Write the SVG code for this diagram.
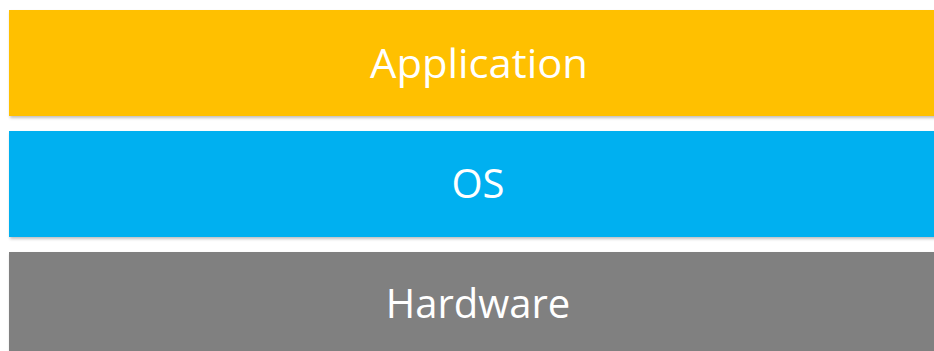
<svg xmlns="http://www.w3.org/2000/svg" width="934" height="351" viewBox="0 0 934 351">
  <style>
    .layer-label { font-family: "Open Sans", "Liberation Sans", sans-serif; font-size: 40px; fill: #ffffff; text-anchor: middle; }
  </style>
  <defs>
    <filter id="soft-shadow" x="-5%" y="-10%" width="110%" height="130%">
      <feGaussianBlur in="SourceAlpha" stdDeviation="1.5"/>
      <feOffset dx="1" dy="2" result="b"/>
      <feComponentTransfer><feFuncA type="linear" slope="0.25"/></feComponentTransfer>
      <feMerge><feMergeNode/><feMergeNode in="SourceGraphic"/></feMerge>
    </filter>
  </defs>
  <rect width="934" height="351" fill="#ffffff"/>
  <g id="application">
    <rect x="9" y="10" width="940" height="106" fill="#ffc000" filter="url(#soft-shadow)"/>
    <text class="layer-label" x="479" y="78" textLength="218" lengthAdjust="spacingAndGlyphs">Application</text>
  </g>
  <g id="os">
    <rect x="9" y="131" width="940" height="106" fill="#00b0f0" filter="url(#soft-shadow)"/>
    <text class="layer-label" x="478" y="198">OS</text>
  </g>
  <g id="hardware">
    <rect x="9" y="252" width="940" height="110" fill="#808080" filter="url(#soft-shadow)"/>
    <text class="layer-label" x="478" y="318">Hardware</text>
  </g>
  <g id="connectors"/>
</svg>
